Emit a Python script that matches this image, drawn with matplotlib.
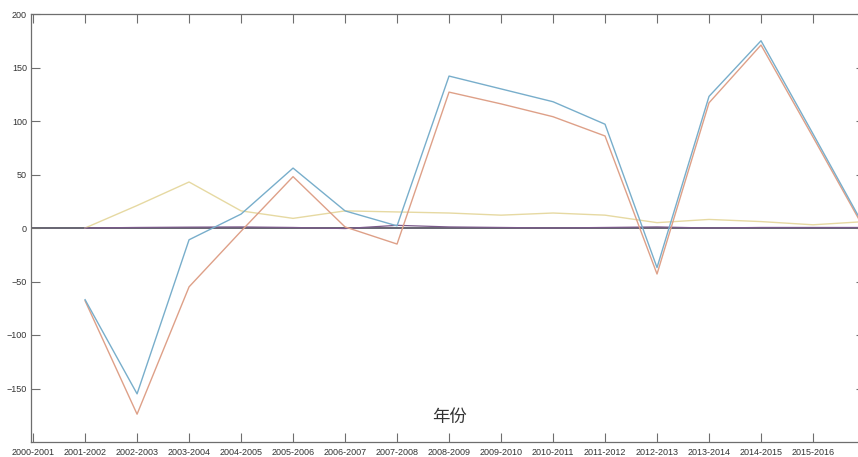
import numpy as np
import matplotlib
matplotlib.use("Agg")
import matplotlib.pyplot as plt

# 年度标签 (index 0 .. 16)
years = ["2000-2001", "2001-2002", "2002-2003", "2003-2004", "2004-2005",
         "2005-2006", "2006-2007", "2007-2008", "2008-2009", "2009-2010",
         "2010-2011", "2011-2012", "2012-2013", "2013-2014", "2014-2015",
         "2015-2016", "2016-2017"]

# series values, from 2001-2002 to 2016-2017
blue = [-67, -155, -11, 13, 56, 16, 2, 142, 130, 118, 97, -37, 123, 175, 88, 0]
orange = [-68, -174, -55, -3, 48, 1, -15, 127, 116, 104, 86, -43, 117, 171, 85, -2]
yellow = [0, 21, 43, 16, 9, 16, 15, 14, 12, 14, 12, 5, 8, 6, 3, 6]
purple = [0, 0.5, 0.8, 1, 0.5, -0.5, 2.5, 1, 0.5, 0, 0.5, 1, 0, 0.5, 0.5, 0.5]

x = np.arange(1, len(years))

fig = plt.figure(figsize=(8.58, 4.57), dpi=100)
W, H = 858, 457
ax = fig.add_axes([31 / W, 15 / H, 834 / W, 428 / H])

ax.axhline(0, color="#5a5866", lw=1.3, zorder=1)
ax.plot(x, yellow, color="#e6d9a2", lw=1.0, zorder=2)
ax.plot(x, purple, color="#7a5a8a", lw=0.9, zorder=2)
ax.plot(x, orange, color="#dea088", lw=1.0, zorder=3)
ax.plot(x, blue, color="#78aecb", lw=1.0, zorder=4)

ax.set_xlim(-0.04, 16)
ax.set_ylim(-200, 200)

ax.set_xticks(range(16))
ax.set_xticklabels(years[:16])
ax.set_yticks([-150, -100, -50, 0, 50, 100, 150, 200])

for s in ax.spines.values():
    s.set_color("#6e6e6e")
    s.set_linewidth(0.9)

ax.tick_params(axis="both", direction="in", length=6.5, width=0.8,
               color="#6e6e6e", labelsize=6.5, labelcolor="#333333",
               top=True, right=True)
ax.tick_params(axis="x", pad=4)
ax.tick_params(axis="y", pad=3)
for lab in ax.get_xticklabels() + ax.get_yticklabels():
    lab.set_family("Liberation Sans")

ax.text(8.0, -177, "年份", ha="center", va="center", fontsize=12.5,
        family=["Noto Sans CJK SC", "DejaVu Sans"], color="#333333")

fig.savefig("out.png", dpi=100)
